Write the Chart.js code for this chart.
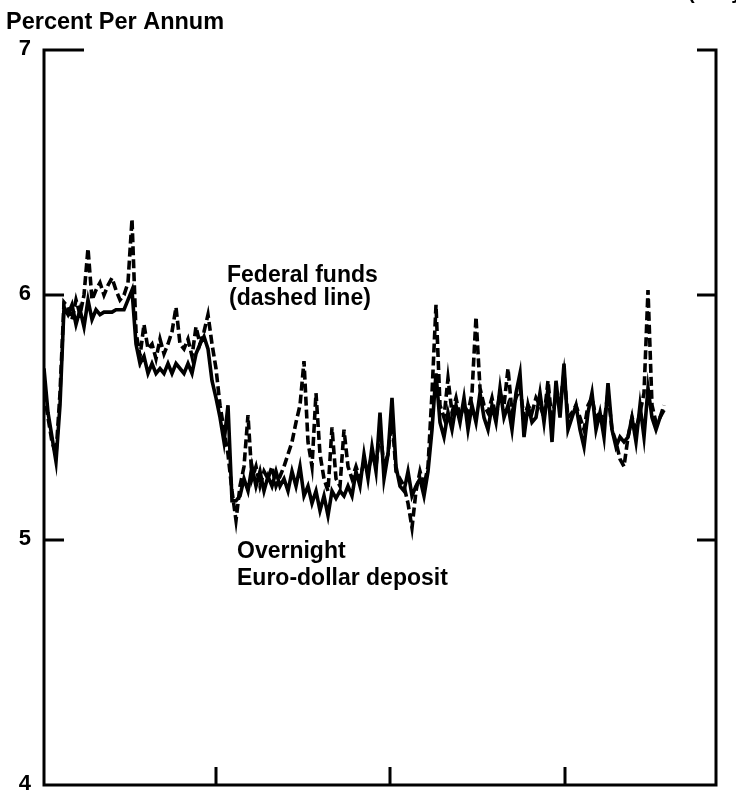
<!DOCTYPE html>
<html>
<head>
<meta charset="utf-8">
<script src="https://cdn.jsdelivr.net/npm/chart.js@4.4.0/dist/chart.umd.min.js"></script>
<style>
  body { margin: 0; background: #fff; }
  #wrap { width: 736px; height: 790px; position: relative; }
</style>
</head>
<body>
<div id="wrap"><canvas id="rates"></canvas></div>
<script>
// daily readings, left to right
const euroDollar = [
  5.70, 5.52, 5.42, 5.32, 5.55, 5.95, 5.92, 5.96, 5.88, 5.94,
  5.87, 5.98, 5.90, 5.94, 5.92, 5.93, 5.93, 5.93, 5.94, 5.94,
  5.94, 5.98, 6.02, 5.80, 5.72, 5.75, 5.68, 5.72, 5.68, 5.70,
  5.68, 5.72, 5.68, 5.72, 5.70, 5.68, 5.72, 5.68, 5.76, 5.80,
  5.83, 5.78, 5.65, 5.58, 5.50, 5.40, 5.55, 5.16, 5.16, 5.18,
  5.25, 5.20, 5.30, 5.22, 5.28, 5.20, 5.26, 5.22, 5.28, 5.22,
  5.25, 5.20, 5.28, 5.22, 5.30, 5.18, 5.22, 5.15, 5.20, 5.12,
  5.18, 5.10, 5.20, 5.17, 5.20, 5.18, 5.22, 5.18, 5.28, 5.22,
  5.35, 5.25, 5.38, 5.28, 5.52, 5.25, 5.35, 5.58, 5.30, 5.22,
  5.20, 5.28, 5.18, 5.22, 5.25, 5.18, 5.28, 5.45, 5.68, 5.48,
  5.42, 5.52, 5.45, 5.55, 5.48, 5.58, 5.45, 5.55, 5.48, 5.60,
  5.50, 5.45, 5.55, 5.48, 5.62, 5.50, 5.55, 5.45, 5.60, 5.68,
  5.42, 5.55, 5.48, 5.50, 5.60, 5.48, 5.62, 5.40, 5.65, 5.50,
  5.72, 5.45, 5.50, 5.55, 5.45, 5.38, 5.52, 5.60, 5.45, 5.52,
  5.42, 5.64, 5.45, 5.38, 5.42, 5.40, 5.42, 5.50, 5.40, 5.55,
  5.42, 5.62, 5.50, 5.45, 5.50, 5.53
];
const fedFunds = [
  5.60, 5.50, 5.40, 5.35, 5.60, 5.97, 5.95, 5.90, 5.98, 5.92,
  6.00, 6.19, 5.98, 6.02, 6.05, 6.00, 6.04, 6.07, 6.02, 5.98,
  6.00, 6.05, 6.31, 5.85, 5.75, 5.88, 5.78, 5.80, 5.74, 5.82,
  5.76, 5.80, 5.85, 5.95, 5.80, 5.78, 5.82, 5.75, 5.87, 5.80,
  5.85, 5.92, 5.80, 5.70, 5.55, 5.45, 5.35, 5.20, 5.08, 5.22,
  5.30, 5.51, 5.25, 5.30, 5.22, 5.28, 5.25, 5.30, 5.22, 5.26,
  5.30, 5.35, 5.40, 5.48, 5.55, 5.73, 5.40, 5.30, 5.60, 5.35,
  5.25, 5.20, 5.46, 5.25, 5.22, 5.45, 5.30, 5.25, 5.30, 5.25,
  5.32, 5.28, 5.35, 5.30, 5.45, 5.30, 5.35, 5.50, 5.28, 5.25,
  5.22, 5.15, 5.05, 5.20, 5.28, 5.22, 5.30, 5.60, 5.96, 5.55,
  5.50, 5.66, 5.52, 5.58, 5.50, 5.55, 5.52, 5.60, 5.91, 5.62,
  5.55, 5.52, 5.58, 5.50, 5.60, 5.55, 5.70, 5.52, 5.58, 5.62,
  5.50, 5.55, 5.52, 5.58, 5.55, 5.50, 5.65, 5.48, 5.60, 5.55,
  5.68, 5.50, 5.52, 5.55, 5.50, 5.45, 5.55, 5.58, 5.50, 5.52,
  5.48, 5.60, 5.45, 5.40, 5.33, 5.30, 5.42, 5.50, 5.45, 5.52,
  5.60, 6.02, 5.55, 5.48, 5.50, 5.55
];
const yTickValues = [4, 5, 6, 7];
const yTickLabels = ['4', '5', '6', '7'];
const xTickValues = [43, 86.5, 130.25];
const xMax = 168;

const toPoints = (arr) => arr.map((v, i) => ({ x: i, y: v }));

const FONT = 'Liberation Sans, Arial, Helvetica, sans-serif';

const framePlugin = {
  id: 'frame',
  afterDraw(chart) {
    const ctx = chart.ctx;
    const xs = chart.scales.x;
    const ys = chart.scales.y;
    const L = xs.getPixelForValue(0);
    const R = xs.getPixelForValue(xMax);
    const T = ys.getPixelForValue(7);
    const B = ys.getPixelForValue(4);
    ctx.save();
    ctx.strokeStyle = '#000';
    ctx.lineWidth = 3;
    ctx.lineCap = 'butt';
    ctx.beginPath();
    // left, bottom, right lines
    ctx.moveTo(L + 40, T);
    ctx.lineTo(L, T);
    ctx.lineTo(L, B);
    ctx.lineTo(R, B);
    ctx.lineTo(R, T);
    ctx.lineTo(R - 19, T);
    // inward ticks on both sides
    [5, 6].forEach(v => {
      const py = ys.getPixelForValue(v);
      ctx.moveTo(L, py);
      ctx.lineTo(L + 20, py);
      ctx.moveTo(R, py);
      ctx.lineTo(R - 19, py);
    });
    xTickValues.forEach(v => {
      const px = xs.getPixelForValue(v);
      ctx.moveTo(px, B);
      ctx.lineTo(px, B - 18);
    });
    ctx.stroke();

    ctx.fillStyle = '#000';
    ctx.font = 'bold 22px ' + FONT;
    ctx.textAlign = 'right';
    ctx.textBaseline = 'middle';
    yTickValues.forEach((v, i) => {
      ctx.fillText(yTickLabels[i], 31, ys.getPixelForValue(v) - 1);
    });

    ctx.textAlign = 'left';
    ctx.textBaseline = 'alphabetic';
    ctx.font = 'bold 23.5px ' + FONT;
    ctx.fillText('Percent Per Annum', 6, 29);
    ctx.font = 'bold 20px ' + FONT;
    ctx.fillText('(Daily averages)', 688, -1);

    ctx.font = 'bold 23px ' + FONT;
    ctx.fillText('Federal funds', 227, 282);
    ctx.fillText('(dashed line)', 229, 305);
    ctx.fillText('Overnight', 237, 558);
    ctx.fillText('Euro-dollar deposit', 237, 585);
    ctx.restore();
  }
};

const ctx = document.getElementById('rates').getContext('2d');
new Chart(ctx, {
  type: 'line',
  data: {
    datasets: [{
      label: 'Federal funds',
      data: toPoints(fedFunds),
      borderColor: '#000',
      borderWidth: 3.6,
      borderDash: [9, 4],
      pointRadius: 0,
      tension: 0
    }, {
      label: 'Overnight Euro-dollar deposit',
      data: toPoints(euroDollar),
      borderColor: '#000',
      borderWidth: 3.6,
      pointRadius: 0,
      tension: 0
    }]
  },
  options: {
    responsive: true,
    maintainAspectRatio: false,
    animation: false,
    layout: { padding: { left: 44, right: 20, top: 50, bottom: 5 } },
    plugins: {
      legend: { display: false },
      tooltip: { enabled: false }
    },
    scales: {
      x: { type: 'linear', min: 0, max: xMax, display: false },
      y: { min: 4, max: 7, display: false }
    }
  },
  plugins: [framePlugin]
});
</script>
</body>
</html>
